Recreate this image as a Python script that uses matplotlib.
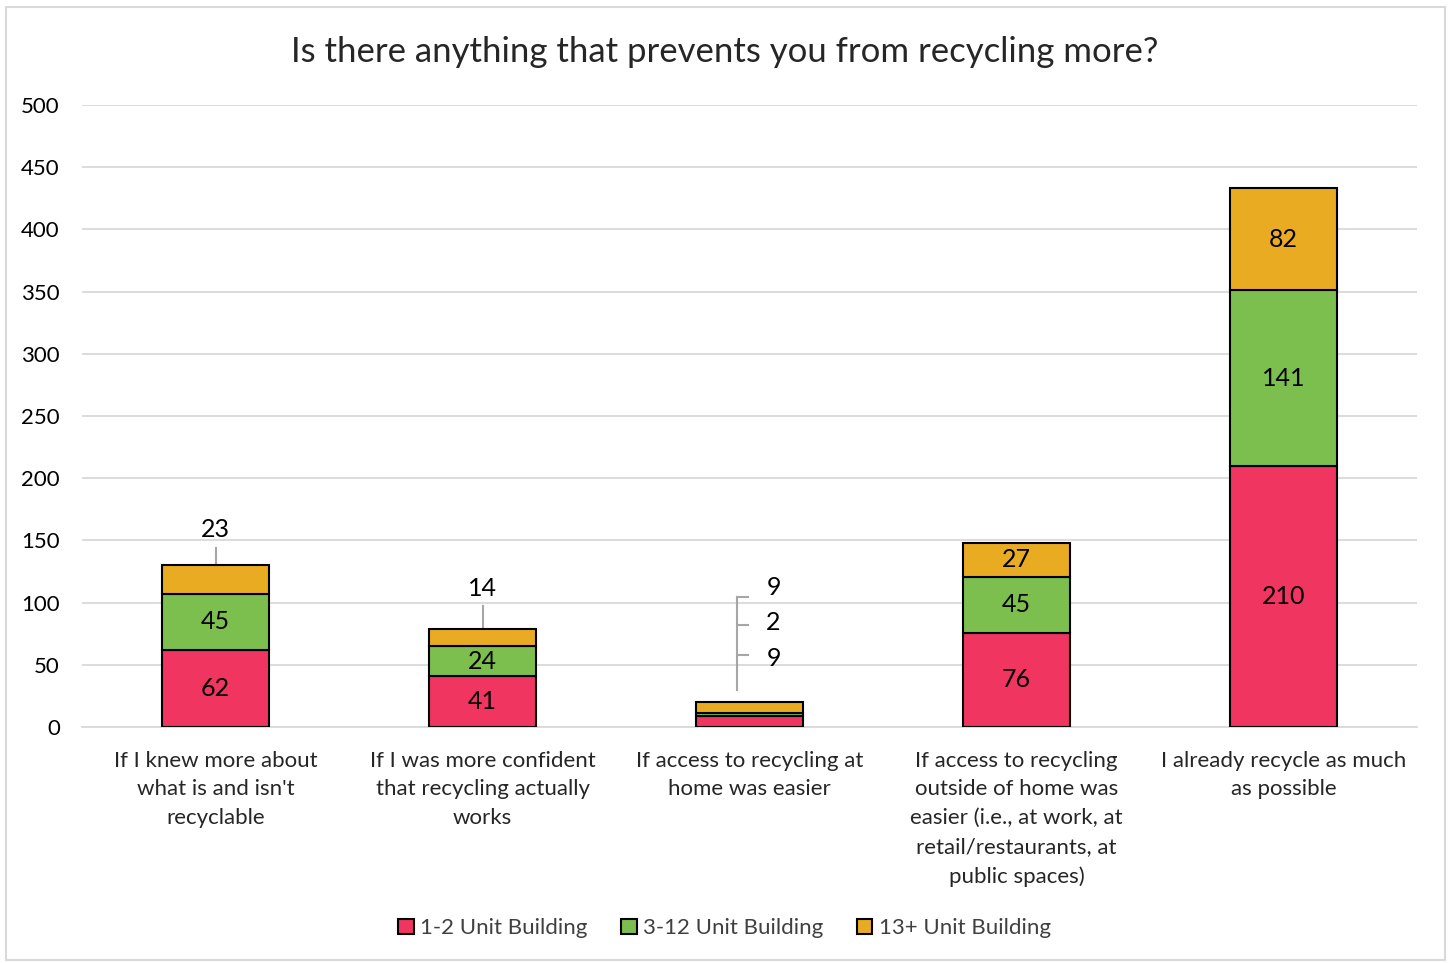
import matplotlib.pyplot as plt
from matplotlib.patches import Rectangle
import numpy as np

plt.rcParams['font.family'] = ['Lato', 'DejaVu Sans']

categories = [
    "If I knew more about\nwhat is and isn't\nrecyclable",
    "If I was more confident\nthat recycling actually\nworks",
    "If access to recycling at\nhome was easier",
    "If access to recycling\noutside of home was\neasier (i.e., at work, at\nretail/restaurants, at\npublic spaces)",
    "I already recycle as much\nas possible",
]
series_names = ["1-2 Unit Building", "3-12 Unit Building", "13+ Unit Building"]
unit_1_2 = [62, 41, 9, 76, 210]
unit_3_12 = [45, 24, 2, 45, 141]
unit_13_plus = [23, 14, 9, 27, 82]
yticks = [0, 50, 100, 150, 200, 250, 300, 350, 400, 450, 500]

colors = ["#EF3560", "#7CBF4E", "#E9AB22"]
GRID = "#D9D9D9"
LEADER = "#A6A6A6"

fig = plt.figure(figsize=(14.49, 9.63), dpi=100)
fig.patches.append(Rectangle((0.004, 0.003), 0.993, 0.990, transform=fig.transFigure,
                             fill=False, edgecolor=GRID, linewidth=1.5))
ax = fig.add_axes([0.0566, 0.245, 0.9214, 0.646])

x = np.arange(len(categories))
width = 0.40
bottom = np.zeros(len(categories))
stack = [unit_1_2, unit_3_12, unit_13_plus]
for vals, name, col in zip(stack, series_names, colors):
    vals = np.array(vals, dtype=float)
    ax.bar(x, vals, width, bottom=bottom, color=col, edgecolor="black",
           linewidth=1.5, label=name, zorder=3)
    bottom += vals

# segments whose labels sit outside the bar, keyed by (bar, series)
outside = {(0, 2), (1, 2), (2, 0), (2, 1), (2, 2)}

label_kw = dict(ha="center", va="center", fontsize=18, color="black", zorder=4)
for i in range(len(categories)):
    base = 0.0
    for j, vals in enumerate(stack):
        v = vals[i]
        if (i, j) not in outside:
            ax.text(x[i], base + v / 2, str(v), **label_kw)
        base += v

# small top segments get a label above with a leader line
for i, top_lbl_y, line_y0 in [(0, 159, 144), (1, 111, 97)]:
    total = unit_1_2[i] + unit_3_12[i] + unit_13_plus[i]
    ax.plot([x[i], x[i]], [line_y0, total + 0.5], color=LEADER, lw=1.5, zorder=2)
    ax.text(x[i], top_lbl_y, str(unit_13_plus[i]), **label_kw)

# third bar: all three labels stacked above with a bracket leader
i = 2
bx = x[i] - 0.047
tick_end = x[i] - 0.006
lbl_x = x[i] + 0.09
lbl_ys = [112, 84, 55]
tick_ys = [104.5, 82, 58]
ax.plot([bx, bx], [29.5, 104.5], color=LEADER, lw=1.5, zorder=2)
for ty in tick_ys:
    ax.plot([bx, tick_end], [ty, ty], color=LEADER, lw=1.5, zorder=2)
for ly, v in zip(lbl_ys, [unit_13_plus[i], unit_3_12[i], unit_1_2[i]]):
    ax.text(lbl_x, ly, str(v), **label_kw)

ax.set_xlim(-0.5, len(categories) - 0.5)
ax.set_ylim(0, 500)
ax.set_yticks(yticks)
ax.set_yticklabels([str(t) for t in yticks], fontsize=16, color="black")
ax.set_xticks(x)
ax.set_xticklabels(categories, fontsize=16, color="#262626", linespacing=1.55)
ax.tick_params(axis="x", length=0, pad=17)
ax.tick_params(axis="y", length=0, pad=16)
ax.yaxis.grid(True, color=GRID, linewidth=1.3, zorder=0)
for s in ["top", "right", "left"]:
    ax.spines[s].set_visible(False)
ax.spines["bottom"].set_color(GRID)
ax.spines["bottom"].set_linewidth(1.3)

fig.text(0.5, 0.946, "Is there anything that prevents you from recycling more?",
         ha="center", va="center", fontsize=25, color="#262626")

fig.legend(loc="center", bbox_to_anchor=(0.5, 0.036), ncol=3, frameon=False,
           fontsize=16, handlelength=0.7, handleheight=0.7, handletextpad=0.3,
           columnspacing=1.5, labelcolor="#404040")

fig.savefig("out.png", dpi=100)
